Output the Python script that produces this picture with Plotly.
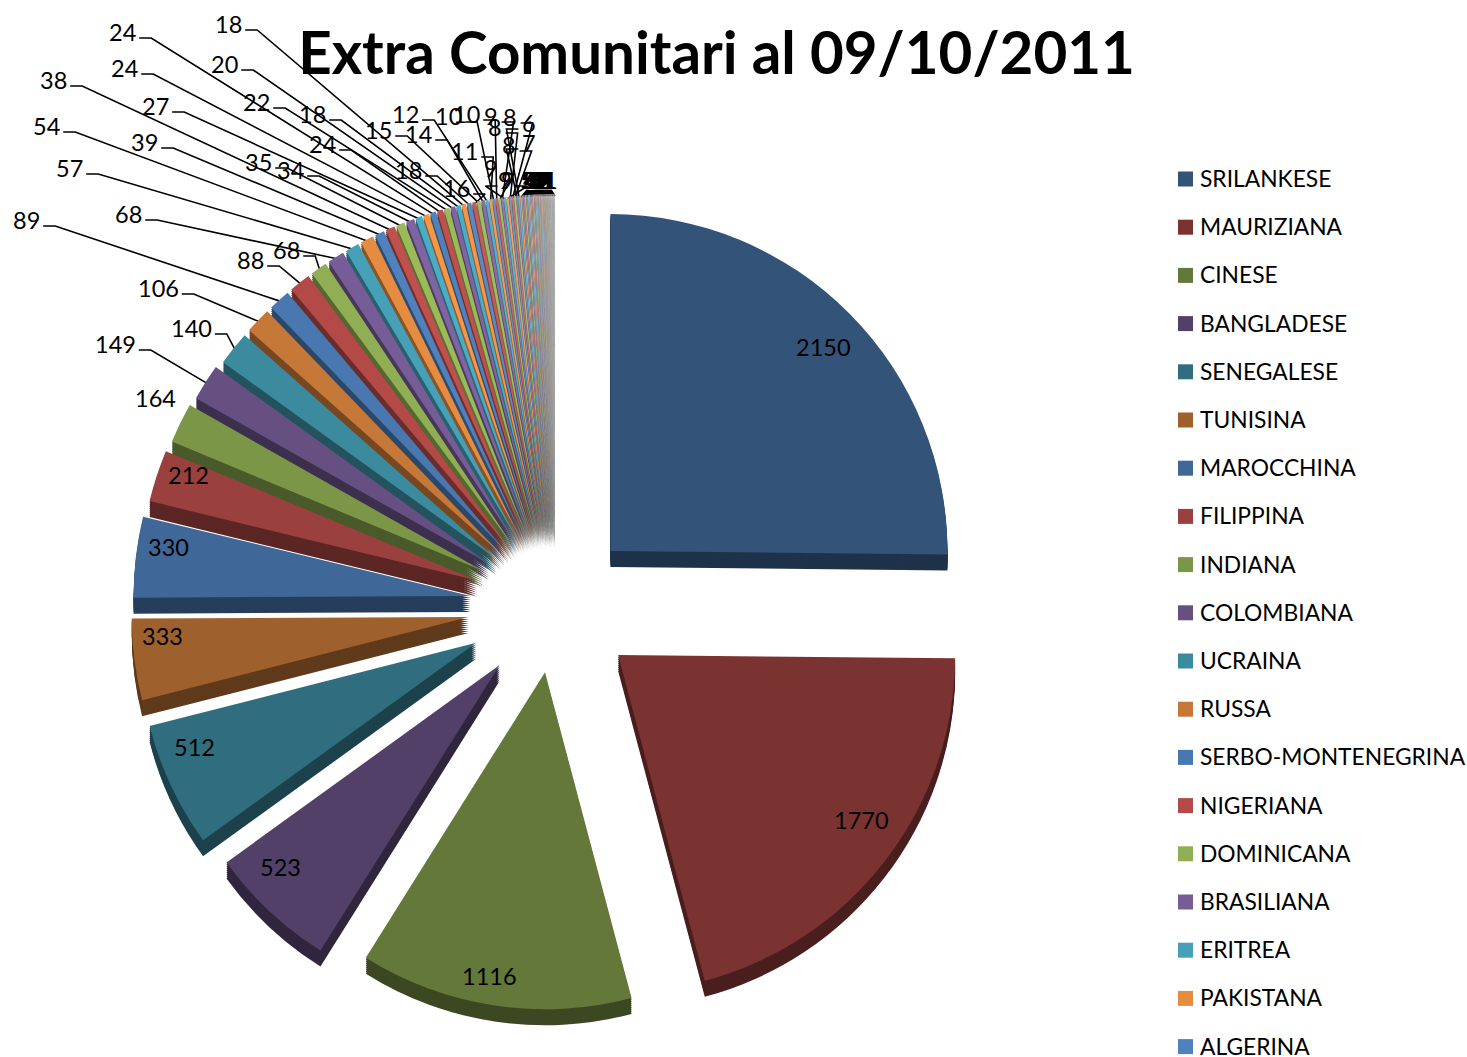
import math
import plotly.graph_objects as go

W, H = 1467, 1057

# ---------- data ----------
nationalities = ["SRILANKESE", "MAURIZIANA", "CINESE", "BANGLADESE", "SENEGALESE", "TUNISINA",
                 "MAROCCHINA", "FILIPPINA", "INDIANA", "COLOMBIANA", "UCRAINA", "RUSSA",
                 "SERBO-MONTENEGRINA", "NIGERIANA", "DOMINICANA", "BRASILIANA", "ERITREA",
                 "PAKISTANA", "ALGERINA"]
main_values = [2150, 1770, 1116, 523, 512, 333, 330, 212, 164, 149, 140, 106, 89, 88, 68, 68,
               57, 54, 39, 38, 35, 34, 27, 24, 24, 24, 22, 20, 18, 18, 18, 16, 15, 14, 12, 11,
               10, 10, 9, 9, 9, 9, 8, 8, 8, 7, 6]
tail_values = [5] * 6 + [4] * 6 + [3] * 8 + [2] * 15 + [1] * 8
values = main_values + tail_values
labels = nationalities + [f"Altra {i + 1}" for i in range(len(values) - len(nationalities))]

# ---------- layout constants (pixels of the page) ----------
CX, CY = 555, 606
RADIUS = 337
BASE_PULL = 75
FIRST_PULLS = [78, 80, 67, 81, 87, 87, 85, 82, 80, 78]  # explosion of the first slices, px
DEPTH = 16
# centres of the labels printed on the slices
inside_pos = [(823, 347), (861, 820), (489, 976), (280, 867), (194, 747), (162, 636), (168, 547), (188, 475)]
# label centres of the outer labels, in the order of the slices, starting with 164
outer_pos = [(155, 398), (115, 344), (191, 328), (158, 288), (26, 220), (250, 260), (286, 250),
             (128, 214), (69, 168), (46, 126), (144, 142), (53, 80), (258, 162), (290, 170),
             (155, 106), (124, 68), (122, 32), (322, 144), (256, 102), (224, 64), (312, 114),
             (228, 24), (408, 170), (456, 188), (378, 130), (418, 134), (405, 114), (464, 151),
             (448, 116), (466, 114), (491, 168), (491, 116), (508, 180), (505, 180), (495, 127),
             (510, 117), (509, 145), (529, 143), (529, 123)]
first_outer = len(inside_pos)
no_leader = {8}  # 164 has no leader line in the reference

BASE = [(79, 129, 189), (192, 80, 77), (155, 187, 89), (128, 100, 162), (75, 172, 198), (247, 150, 70)]
CYCLE_SHADE = [0.64, 0.80, 0.93]


def slice_colour(i):
    cyc, k = divmod(i, 6)
    f = CYCLE_SHADE[cyc] if cyc < len(CYCLE_SHADE) else 1.0
    t = max(0.0, (cyc - 4) / 10)
    return tuple(c * f * (1 - t) + 205 * t for c in BASE[k])


def css(c, m=1.0):
    return "rgb(%d,%d,%d)" % tuple(round(v * m) for v in c)


cols = [slice_colour(i) for i in range(len(values))]
top_cols = [css(c) for c in cols]
side_cols = [css(c, 0.6) for c in cols]

pull_px = FIRST_PULLS + [BASE_PULL] * (len(values) - len(FIRST_PULLS))
pulls = [p / RADIUS for p in pull_px]

# angles derived from the values
total = sum(values)
mids, acc = [], 0
for v in values:
    mids.append((acc + v / 2) / total * 2 * math.pi)
    acc += v


def polar(i, dist):
    return CX + dist * math.sin(mids[i]), CY - dist * math.cos(mids[i])


fig = go.Figure()
D = RADIUS * 2 * (1 + max(pulls))


def pie(dy, colours):
    fig.add_trace(go.Pie(
        labels=labels, values=values, sort=False, direction="clockwise", rotation=0,
        pull=pulls, textinfo="none", showlegend=False, hoverinfo="label+value",
        marker=dict(colors=colours, line=dict(width=0)),
        domain=dict(x=[(CX - D / 2) / W, (CX + D / 2) / W],
                    y=[1 - (CY + dy + D / 2) / H, 1 - (CY + dy - D / 2) / H]),
    ))


for dy in range(DEPTH, 0, -2):
    pie(dy, side_cols)
pie(0, top_cols)

annots = []


def note(x, y, text, size=23.5):
    annots.append(dict(x=x, y=y, xref="x", yref="y", text=text, showarrow=False,
                       xanchor="center", yanchor="middle",
                       font=dict(family="Lato, sans-serif", size=size, color="#000000")))


# inside labels
for i, (tx, ty) in enumerate(inside_pos):
    note(tx, ty, str(values[i]))

# outer labels with leader lines
lx, ly = [], []
for j, (tx, ty) in enumerate(outer_pos):
    i = first_outer + j
    note(tx, ty, str(values[i]))
    if i in no_leader:
        continue
    half = 6.6 * len(str(values[i]))
    ex, ey = polar(i, RADIUS + pull_px[i] - 2)
    if tx > ex:
        lx += [tx - half - 4, tx - half - 16, ex, None]
    else:
        lx += [tx + half + 4, tx + half + 16, ex, None]
    ly += [ty + 6, ty + 6, ey, None]

# the tail: labels piled over one another above the last slices
tail_start = first_outer + len(outer_pos)
n_tail = len(values) - tail_start
for j in range(n_tail):
    i = tail_start + j
    tx = 527 + 24 * j / (n_tail - 1)
    ty = 180
    note(tx, ty, str(values[i]))
    ex, ey = polar(i, RADIUS + pull_px[i] - 2)
    lx += [tx, ex, None]
    ly += [190, ey, None]

fig.add_trace(go.Scatter(x=lx, y=ly, mode="lines", line=dict(color="#000000", width=1.6),
                         showlegend=False, hoverinfo="skip"))

# legend
LEG_Y0, LEG_DY = 179, 48.2
fig.add_trace(go.Scatter(
    x=[1185.5] * len(nationalities), y=[LEG_Y0 + LEG_DY * i for i in range(len(nationalities))],
    mode="markers", marker=dict(symbol="square", size=15, color=top_cols[:len(nationalities)]),
    showlegend=False, hoverinfo="skip"))
for i, name in enumerate(nationalities):
    annots.append(dict(x=1198, y=LEG_Y0 + LEG_DY * i - 1, xref="x", yref="y", text=name, showarrow=False,
                       xanchor="left", yanchor="middle",
                       font=dict(family="Lato, sans-serif", size=22.8, color="#000000")))

fig.update_layout(
    width=W, height=H, margin=dict(l=0, r=0, t=0, b=0), paper_bgcolor="#ffffff", plot_bgcolor="#ffffff",
    showlegend=False, annotations=annots,
    title=dict(text="<b>Extra Comunitari al 09/10/2011</b>", x=716.5 / W, y=1 - 54 / H,
               xanchor="center", yanchor="middle", xref="paper", yref="paper",
               font=dict(family="Lato, sans-serif", size=58.3, color="#000000")),
    xaxis=dict(range=[0, W], visible=False, domain=[0, 1], fixedrange=True),
    yaxis=dict(range=[H, 0], visible=False, domain=[0, 1], fixedrange=True),
)
fig.write_html("out.html", config=dict(displayModeBar=False),
               post_script="document.body.style.margin='0';document.documentElement.style.overflow='hidden';")
